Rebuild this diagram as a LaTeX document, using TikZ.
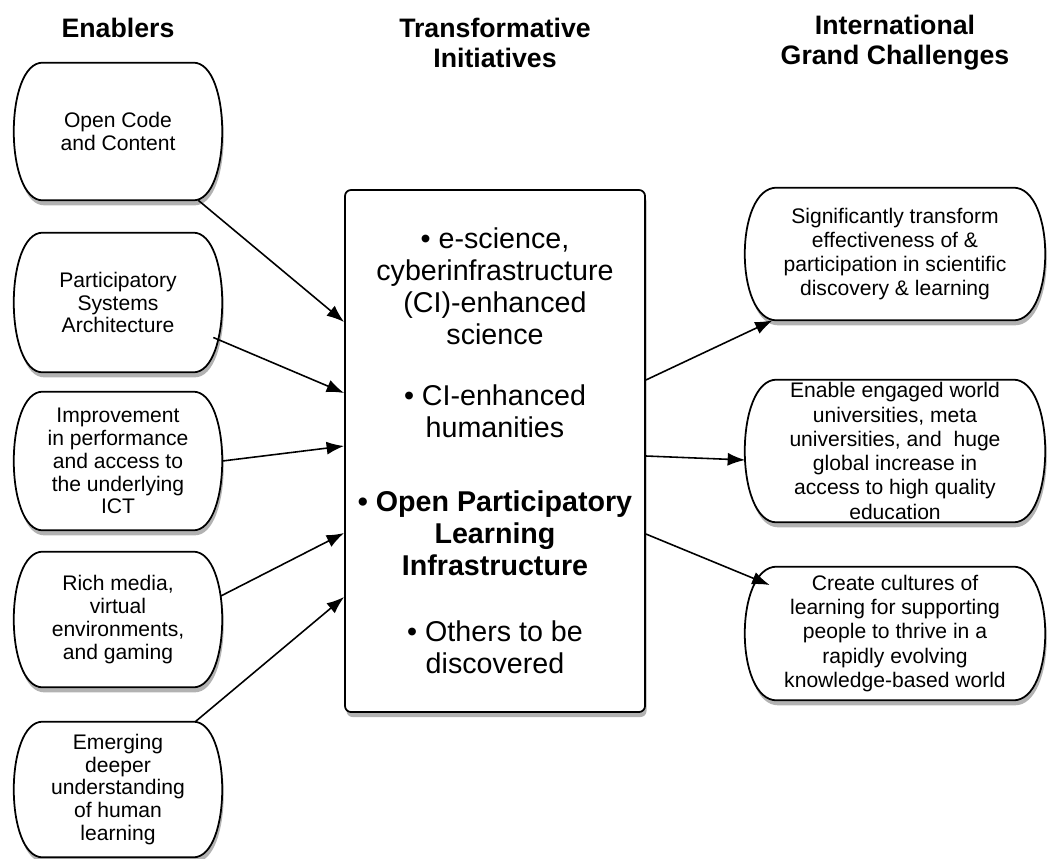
\documentclass[tikz,border=0pt]{standalone}
\usepackage{fontspec}
\setmainfont{Liberation Sans}
\usetikzlibrary{arrows.meta,shadows,backgrounds}

\tikzset{
  every node/.style={align=center, inner sep=0pt},
  head/.style={font=\fontsize{15.2}{17}\selectfont\bfseries},
  enabler/.style={minimum width=3cm, font=\fontsize{12}{13}\selectfont},
  challenge/.style={minimum width=4.72cm, font=\fontsize{12}{13.8}\selectfont},
  softshadow/.style={drop shadow={shadow xshift=.3mm, shadow yshift=-1mm, opacity=.3, fill=black}},
  tibox/.style={draw, line width=1pt, rounded corners=.12cm, fill=white, softshadow,
    minimum width=6cm, minimum height=10.44cm, font=\fontsize{16.3}{18.2}\selectfont},
  outline/.style={draw, line width=1pt, fill=white, softshadow},
  arr/.style={-{Latex[length=3.5mm,width=2.6mm]}, line width=.9pt}
}

\begin{document}
\begin{tikzpicture}
\useasboundingbox (0,0) rectangle (20.96,-17.18);

% headings
\node[head] (h1) at (2.36,-0.56) {Enablers};
\node[head] (h2) at (9.9,-0.86) {Transformative\\Initiatives};
\node[head] (h3) at (17.9,-0.86) {International\\Grand Challenges};

% enablers
\node[enabler, minimum height=2.74cm] (e1) at (2.36,-2.63) {Open Code\\and Content};
\node[enabler, minimum height=2.78cm] (e2) at (2.36,-6.05) {Participatory\\Systems\\Architecture};
\node[enabler, minimum height=2.76cm] (e3) at (2.36,-9.22) {Improvement\\in performance\\and access to\\the underlying\\ICT};
\node[enabler, minimum height=2.70cm] (e4) at (2.36,-12.39) {Rich media,\\virtual\\environments,\\and gaming};
\node[enabler, minimum height=2.70cm] (e5) at (2.36,-15.79) {Emerging\\deeper\\understanding\\of human\\learning};

% transformative initiatives
\node[tibox] (ti) at (9.9,-9.02) {• e-science,\\cyberinfrastructure\\(CI)-enhanced\\science\\[.58cm]
  • CI-enhanced\\humanities\\[.84cm]
  \textbf{• Open Participatory}\\\textbf{Learning}\\\textbf{Infrastructure}\\[.68cm]
  • Others to be\\discovered};

% grand challenges
\node[challenge, minimum height=2.64cm] (r1) at (17.9,-5.08) {Significantly transform\\effectiveness of \&\\participation in scientific\\discovery \& learning};
\node[challenge, minimum height=2.84cm] (r2) at (17.9,-9.02) {Enable engaged world\\universities, meta\\universities, and\ \ huge\\global increase in\\access to high quality\\education};
\node[challenge, minimum height=2.66cm] (r3) at (17.9,-12.67) {Create cultures of\\learning for supporting\\people to thrive in a\\rapidly evolving\\knowledge-based world};

% box outlines with bulging sides
\begin{scope}[on background layer]
\foreach \n/\b in {e1/.77,e2/.77,e3/.77,e4/.77,e5/.77,r1/.85,r2/.85,r3/.85}
  \draw[outline] (\n.north west) -- (\n.north east) .. controls +(\b,0) and +(\b,0) .. (\n.south east)
    -- (\n.south west) .. controls +(-\b,0) and +(-\b,0) .. cycle;
\end{scope}

% connector ends
\coordinate (e1-out) at ([xshift=.1cm]e1.south east);
\coordinate (e2-out) at ([xshift=.4cm,yshift=-.7cm]e2.east);
\coordinate (e3-out) at ([xshift=.58cm]e3.east);
\coordinate (e4-out) at ([xshift=.55cm,yshift=.47cm]e4.east);
\coordinate (e5-out) at ([xshift=.04cm]e5.north east);
\coordinate (ti-in1) at ([yshift=2.58cm]ti.west);
\coordinate (ti-in2) at ([yshift=1.16cm]ti.west);
\coordinate (ti-in3) at ([yshift=.1cm]ti.west);
\coordinate (ti-in4) at ([yshift=-1.64cm]ti.west);
\coordinate (ti-in5) at ([yshift=-2.92cm]ti.west);
\coordinate (ti-out1) at ([yshift=1.42cm]ti.east);
\coordinate (ti-out2) at ([yshift=-.1cm]ti.east);
\coordinate (ti-out3) at ([yshift=-1.66cm]ti.east);
\coordinate (r1-in) at ([xshift=-.08cm]r1.south west);
\coordinate (r2-in) at ([xshift=-.63cm,yshift=-.18cm]r2.west);
\coordinate (r3-in) at ([xshift=-.14cm,yshift=.97cm]r3.west);

\foreach \from/\to in {e1-out/ti-in1,e2-out/ti-in2,e3-out/ti-in3,e4-out/ti-in4,e5-out/ti-in5,ti-out1/r1-in,ti-out2/r2-in,ti-out3/r3-in}
	\draw[arr] (\from) -- (\to);

\end{tikzpicture}
\end{document}
